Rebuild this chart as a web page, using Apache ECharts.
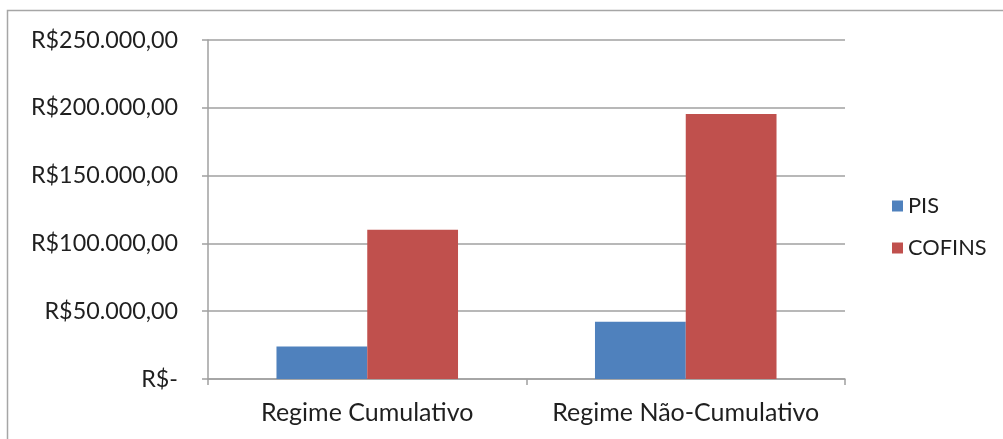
<!DOCTYPE html>
<html>
<head>
<meta charset="utf-8">
<script src="https://cdn.jsdelivr.net/npm/echarts@6/dist/echarts.min.js"></script>
<style>
  html, body { margin: 0; padding: 0; background: #fff; }
  #chart { width: 1003px; height: 439px; }
</style>
</head>
<body>
<div id="chart"></div>
<script>
// Tax burden by regime (PIS / COFINS)
const categories = ['Regime Cumulativo', 'Regime Não-Cumulativo'];
const seriesNames = ['PIS', 'COFINS'];
const pisValues = [23900, 42300];
const cofinsValues = [110000, 195500];
const colors = ['#4F81BD', '#C0504D'];

const FONT = 'Lato, "Open Sans", sans-serif';
const TEXT = '#1f1f1f';

function brl(v) {
  if (v === 0) return 'R$-';
  const s = Math.round(v).toString().replace(/\B(?=(\d{3})+(?!\d))/g, '.');
  return 'R$' + s + ',00';
}

const chart = echarts.init(document.getElementById('chart'));
chart.setOption({
  animation: false,
  backgroundColor: '#fff',
  graphic: [{
    type: 'rect',
    shape: { x: 7.5, y: 10.5, width: 1100, height: 500 },
    style: { fill: 'none', stroke: '#a6a6a6', lineWidth: 1.5 },
    silent: true
  }],
  grid: { left: 208, right: 158, top: 40, bottom: 60 },
  legend: {
    orient: 'vertical',
    left: 887,
    top: 190,
    itemWidth: 11,
    itemHeight: 11,
    itemGap: 20,
    icon: 'rect',
    textStyle: { fontFamily: FONT, fontSize: 21.8, color: TEXT },
    data: seriesNames
  },
  xAxis: {
    type: 'category',
    data: categories,
    axisLine: { lineStyle: { color: '#a0a0a0', width: 1.5 } },
    axisTick: { show: true, length: 6, lineStyle: { color: '#a0a0a0', width: 1.5 } },
    axisLabel: { interval: 0, hideOverlap: false, fontFamily: FONT, fontSize: 25, color: TEXT, margin: 21 }
  },
  yAxis: {
    type: 'value',
    min: 0,
    max: 250000,
    interval: 50000,
    axisLine: { show: true, lineStyle: { color: '#a0a0a0', width: 1.5 } },
    axisTick: { show: true, length: 6, lineStyle: { color: '#a0a0a0', width: 1.5 } },
    splitLine: { lineStyle: { color: '#a0a0a0', width: 1.5 } },
    axisLabel: { fontFamily: FONT, fontSize: 23.3, color: TEXT, margin: 30, formatter: brl }
  },
  series: [
    {
      name: seriesNames[0], type: 'bar', data: pisValues,
      itemStyle: { color: colors[0] },
      barGap: '0%', barCategoryGap: '43%'
    },
    {
      name: seriesNames[1], type: 'bar', data: cofinsValues,
      itemStyle: { color: colors[1] },
      barGap: '0%', barCategoryGap: '43%'
    }
  ]
});
</script>
</body>
</html>
